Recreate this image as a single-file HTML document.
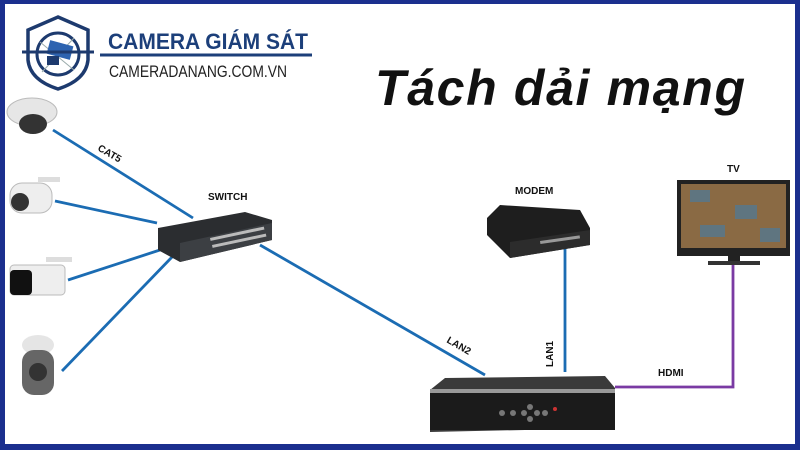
<!DOCTYPE html>
<html><head><meta charset="utf-8"><style>
html,body{margin:0;padding:0;background:#fff}
svg{display:block}
text{font-family:"Liberation Sans",sans-serif}
</style></head><body>
<svg width="800" height="450" viewBox="0 0 800 450" xmlns="http://www.w3.org/2000/svg">
<rect x="0" y="0" width="800" height="450" fill="#1b2f8e"/>
<rect x="5" y="4" width="790" height="440" fill="#fff"/>
<!-- logo -->
<g fill="none" stroke="#1d3a6e" stroke-width="3.5">
<path d="M58 17 L88 30 L88 60 Q86 80 58 89 Q30 80 28 60 L28 30 Z"/>
<circle cx="58" cy="54" r="21" stroke-width="3"/>
</g>
<path d="M40 42 L74 70 M74 38 L42 72" stroke="#9aa" stroke-width="1"/>
<rect x="48" y="43" width="24" height="14" fill="#2d63b0" transform="rotate(15 60 50)"/>
<rect x="47" y="56" width="12" height="9" fill="#1d3a6e"/>
<line x1="22" y1="52" x2="94" y2="52" stroke="#1d3a6e" stroke-width="3"/>
<text x="108" y="49" font-size="22" font-weight="bold" fill="#1c3f7a" textLength="200" lengthAdjust="spacingAndGlyphs">CAMERA GIÁM SÁT</text>
<line x1="100" y1="55" x2="312" y2="55" stroke="#1c3f7a" stroke-width="3"/>
<text x="109" y="77" font-size="16.5" fill="#222" textLength="178" lengthAdjust="spacingAndGlyphs">CAMERADANANG.COM.VN</text>
<!-- title -->
<text x="375" y="105" font-size="50" font-weight="bold" font-style="italic" fill="#111" textLength="370">Tách dải mạng</text>
<!-- lines -->
<g stroke="#1b6cb3" stroke-width="2.8" fill="none">
<line x1="53" y1="130" x2="193" y2="218"/>
<line x1="55" y1="201" x2="157" y2="223"/>
<line x1="68" y1="280" x2="163" y2="249"/>
<line x1="62" y1="371" x2="173" y2="256"/>
<line x1="260" y1="245" x2="485" y2="375"/>
<line x1="565" y1="245" x2="565" y2="372"/>
</g>
<path d="M615 387 L733 387 L733 265" stroke="#7a3aa3" stroke-width="2.8" fill="none"/>
<!-- cameras -->
<g>
<ellipse cx="32" cy="112" rx="25" ry="14" fill="#e6e6e6" stroke="#bbb"/>
<ellipse cx="33" cy="124" rx="14" ry="10" fill="#333"/>
<rect x="38" y="177" width="22" height="5" fill="#ddd"/>
<rect x="10" y="183" width="42" height="30" rx="12" fill="#eee" stroke="#bbb"/>
<circle cx="20" cy="202" r="9" fill="#333"/>
<rect x="46" y="257" width="26" height="5" fill="#ddd"/>
<rect x="10" y="265" width="55" height="30" rx="4" fill="#eee" stroke="#bbb"/>
<rect x="10" y="270" width="22" height="25" rx="4" fill="#111"/>
<ellipse cx="38" cy="345" rx="16" ry="10" fill="#e5e5e5"/>
<rect x="22" y="350" width="32" height="45" rx="12" fill="#666"/>
<circle cx="38" cy="372" r="9" fill="#333"/>
</g>
<!-- switch -->
<path d="M158 228 L245 212 L272 220 L272 240 L180 262 L158 250 Z" fill="#2b2d30"/>
<path d="M180 243 L272 223 L272 240 L180 262 Z" fill="#3c3f43"/>
<g fill="#bbb"><rect x="210" y="238" width="55" height="3" transform="rotate(-12 210 238)"/><rect x="212" y="245" width="55" height="3" transform="rotate(-12 212 245)"/></g>
<!-- modem -->
<path d="M487 218 L500 205 L580 210 L590 228 L590 245 L510 258 L487 235 Z" fill="#1e1e1e"/>
<path d="M510 242 L590 230 L590 245 L510 258 Z" fill="#2c2c2c"/>
<g fill="#999"><rect x="540" y="241" width="40" height="3" transform="rotate(-8 540 241)"/></g>
<!-- TV -->
<rect x="677" y="180" width="113" height="76" fill="#222"/>
<rect x="681" y="184" width="105" height="64" fill="#8a6a44"/>
<g fill="#4d7a9a" opacity=".7"><rect x="690" y="190" width="20" height="12"/><rect x="735" y="205" width="22" height="14"/><rect x="700" y="225" width="25" height="12"/><rect x="760" y="228" width="20" height="14"/></g>
<rect x="728" y="256" width="12" height="6" fill="#222"/>
<rect x="708" y="261" width="52" height="4" fill="#333"/>
<!-- NVR -->
<path d="M430 390 L445 378 L605 376 L615 388 L615 428 L430 432 Z" fill="#3a3a3a"/>
<rect x="430" y="392" width="185" height="38" fill="#1b1b1b"/>
<rect x="430" y="389" width="185" height="4" fill="#999"/>
<g fill="#777"><circle cx="502" cy="413" r="3"/><circle cx="513" cy="413" r="3"/><circle cx="524" cy="413" r="3"/><circle cx="530" cy="407" r="3"/><circle cx="530" cy="419" r="3"/><circle cx="537" cy="413" r="3"/><circle cx="545" cy="413" r="3"/></g>
<circle cx="555" cy="409" r="2" fill="#c33"/>
<!-- labels -->
<g font-size="10" font-weight="bold" fill="#111">
<text x="97" y="150" transform="rotate(30 97 150)">CAT5</text>
<text x="208" y="200">SWITCH</text>
<text x="515" y="194">MODEM</text>
<text x="727" y="172">TV</text>
<text x="446" y="342" transform="rotate(30 446 342)">LAN2</text>
<text x="553" y="367" transform="rotate(-90 553 367)">LAN1</text>
<text x="658" y="376">HDMI</text>
</g>
</svg>
</body></html>
